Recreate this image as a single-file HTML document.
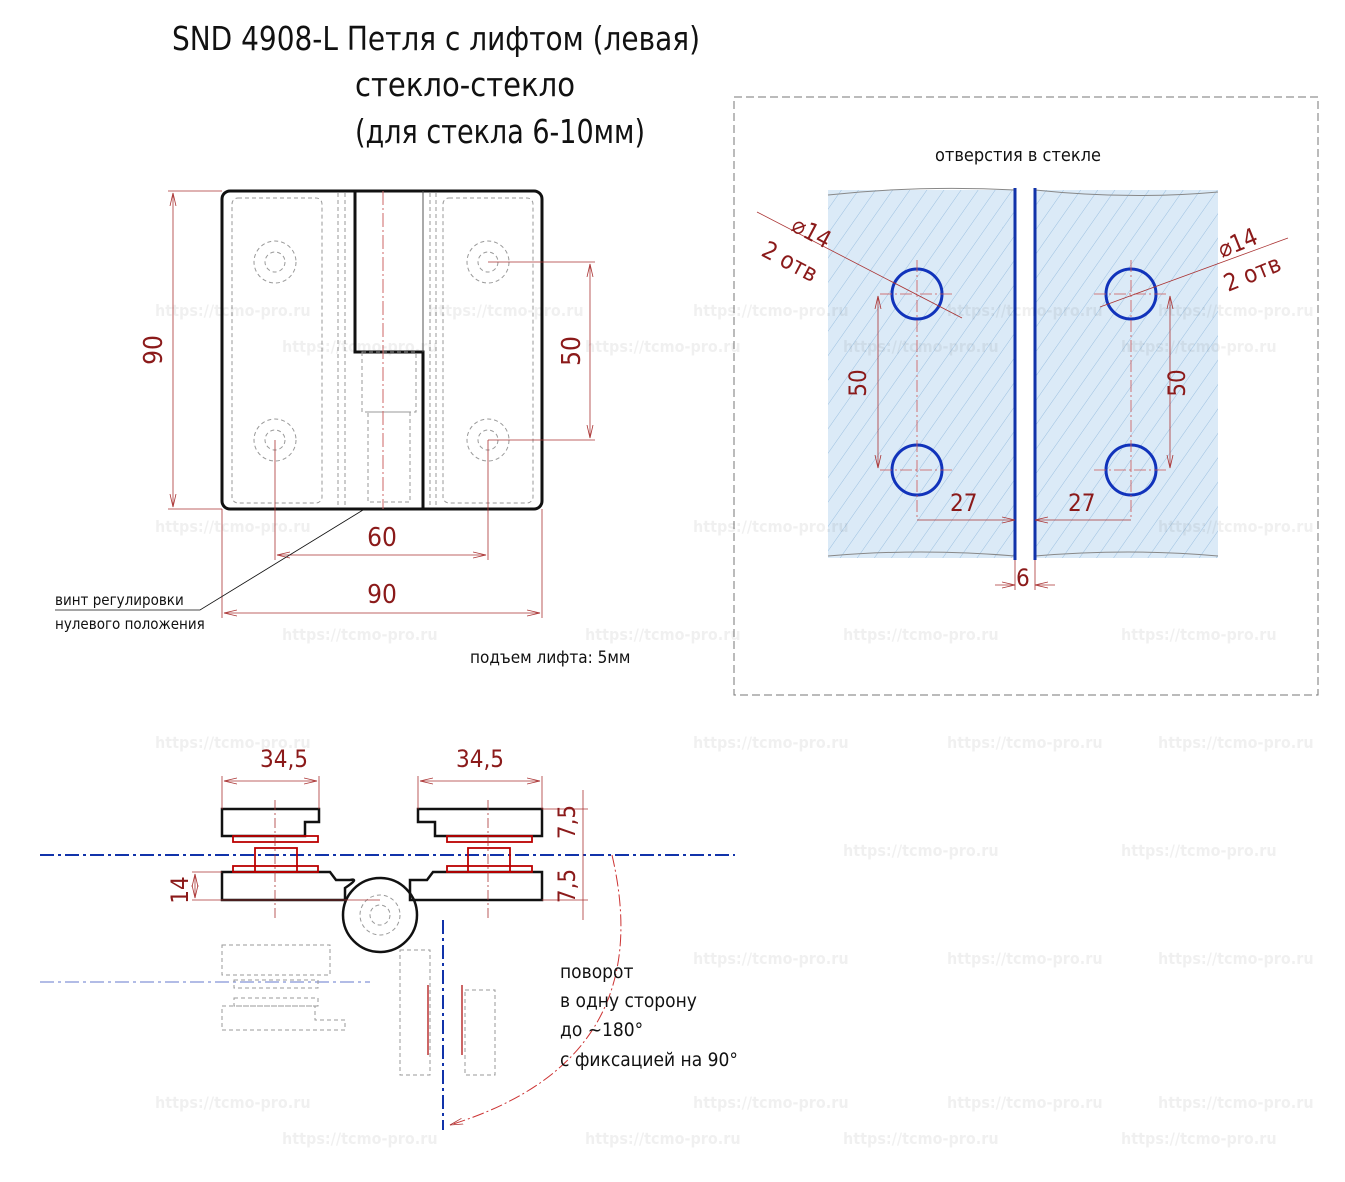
<!DOCTYPE html>
<html><head><meta charset="utf-8"><style>
html,body{margin:0;padding:0;background:#fff}
svg{display:block}
text{font-family:"DejaVu Sans Condensed","Liberation Sans Narrow","Liberation Sans",sans-serif}
</style></head><body>
<svg width="1345" height="1182" viewBox="0 0 1345 1182" xmlns="http://www.w3.org/2000/svg">
<defs>
<pattern id="h" width="14" height="14" patternUnits="userSpaceOnUse" patternTransform="rotate(35)">
<rect width="14" height="14" fill="#dbeaf7"/><line x1="0" y1="0" x2="0" y2="14" stroke="#9cc0e0" stroke-width="1"/></pattern>
<marker id="a" markerWidth="14" markerHeight="8" refX="13" refY="4" orient="auto-start-reverse" markerUnits="userSpaceOnUse"><path d="M0,1 L13,4 L0,7" fill="none" stroke="#a33" stroke-width="0.8"/></marker>
</defs>
<g font-size="33" fill="#111">
<text x="172" y="50" textLength="528" lengthAdjust="spacingAndGlyphs">SND 4908-L Петля с лифтом (левая)</text>
<text x="355" y="96" textLength="220" lengthAdjust="spacingAndGlyphs">стекло-стекло</text>
<text x="355" y="143" textLength="290" lengthAdjust="spacingAndGlyphs">(для стекла 6-10мм)</text>
</g>
<!-- front view -->
<g fill="none">
<rect x="222" y="191" width="320" height="318" rx="8" stroke="#111" stroke-width="3"/>
<path d="M355 191 V352 H423 V509" stroke="#111" stroke-width="3"/>
<line x1="423" y1="191" x2="423" y2="352" stroke="#555"/>
<g stroke="#999" stroke-dasharray="4 3">
<rect x="232" y="198" width="90" height="305" rx="6"/>
<rect x="443" y="198" width="90" height="305" rx="6"/>
<line x1="338" y1="193" x2="338" y2="507"/><line x1="345" y1="193" x2="345" y2="507"/>
<line x1="430" y1="193" x2="430" y2="507"/><line x1="436" y1="193" x2="436" y2="507"/>
<rect x="362" y="352" width="54" height="60"/><rect x="368" y="412" width="42" height="90"/>
<circle cx="275" cy="262" r="21"/><circle cx="275" cy="262" r="10"/>
<circle cx="275" cy="440" r="21"/><circle cx="275" cy="440" r="10"/>
<circle cx="488" cy="262" r="21"/><circle cx="488" cy="262" r="10"/>
<circle cx="488" cy="440" r="21"/><circle cx="488" cy="440" r="10"/>
</g>
<line x1="383" y1="191" x2="383" y2="509" stroke="#c66" stroke-dasharray="14 3 2 3"/>
<g stroke="#a33" stroke-width="0.8">
<line x1="222" y1="191" x2="168" y2="191"/><line x1="222" y1="509" x2="168" y2="509"/>
<line x1="173" y1="193" x2="173" y2="507" marker-start="url(#a)" marker-end="url(#a)"/>
<line x1="488" y1="262" x2="595" y2="262"/><line x1="488" y1="440" x2="595" y2="440"/>
<line x1="590" y1="264" x2="590" y2="438" marker-start="url(#a)" marker-end="url(#a)"/>
<line x1="275" y1="440" x2="275" y2="560"/><line x1="488" y1="440" x2="488" y2="560"/>
<line x1="277" y1="555" x2="486" y2="555" marker-start="url(#a)" marker-end="url(#a)"/>
<line x1="222" y1="509" x2="222" y2="618"/><line x1="542" y1="509" x2="542" y2="618"/>
<line x1="224" y1="613" x2="540" y2="613" marker-start="url(#a)" marker-end="url(#a)"/>
</g>
<path d="M363 510 L200 610 H55" stroke="#111" stroke-width="0.8"/>
</g>
<g fill="#8b1a1a" font-size="26">
<text transform="translate(162,350) rotate(-90)" text-anchor="middle">90</text>
<text transform="translate(580,351) rotate(-90)" text-anchor="middle">50</text>
<text x="382" y="546" text-anchor="middle">60</text>
<text x="382" y="603" text-anchor="middle">90</text>
</g>
<g font-size="15" fill="#111">
<text x="55" y="605">винт регулировки</text>
<text x="55" y="629">нулевого положения</text>
<text x="470" y="663" font-size="17">подъем лифта: 5мм</text>
</g>
<!-- right box -->
<rect x="734" y="97" width="584" height="598" fill="none" stroke="#777" stroke-dasharray="8 4"/>
<text x="935" y="161" font-size="18" fill="#111">отверстия в стекле</text>
<rect x="828" y="190" width="187" height="368" fill="url(#h)"/>
<rect x="1035" y="190" width="183" height="368" fill="url(#h)"/>
<g stroke="#888" fill="none"><path d="M828 195 Q920 185 1015 190 M1035 190 Q1130 200 1218 192 M828 556 Q920 548 1015 556 M1035 556 Q1130 548 1218 556"/></g>
<line x1="1015" y1="188" x2="1015" y2="560" stroke="#1133aa" stroke-width="3"/>
<line x1="1035" y1="188" x2="1035" y2="560" stroke="#1133aa" stroke-width="3"/>
<g fill="none" stroke="#1133bb" stroke-width="3">
<circle cx="917" cy="294" r="25"/><circle cx="917" cy="470" r="25"/>
<circle cx="1131" cy="294" r="25"/><circle cx="1131" cy="470" r="25"/></g>
<g stroke="#c55" stroke-width="0.8" fill="none" stroke-dasharray="12 3 2 3">
<line x1="880" y1="294" x2="955" y2="294"/><line x1="917" y1="260" x2="917" y2="520"/>
<line x1="880" y1="470" x2="955" y2="470"/><line x1="1094" y1="294" x2="1168" y2="294"/>
<line x1="1131" y1="260" x2="1131" y2="520"/><line x1="1094" y1="470" x2="1168" y2="470"/>
</g>
<g stroke="#a33" stroke-width="0.8" fill="none">
<line x1="757" y1="212" x2="962" y2="318"/><line x1="1288" y1="238" x2="1100" y2="307"/>
<line x1="878" y1="296" x2="878" y2="468" marker-start="url(#a)" marker-end="url(#a)"/>
<line x1="1170" y1="296" x2="1170" y2="468" marker-start="url(#a)" marker-end="url(#a)"/>
<line x1="917" y1="520" x2="1015" y2="520" marker-end="url(#a)"/>
<line x1="1131" y1="520" x2="1035" y2="520" marker-end="url(#a)"/>
<line x1="1015" y1="560" x2="1015" y2="590"/><line x1="1035" y1="560" x2="1035" y2="590"/>
<line x1="995" y1="585" x2="1015" y2="585" marker-end="url(#a)"/><line x1="1055" y1="585" x2="1035" y2="585" marker-end="url(#a)"/>
</g>
<g fill="#8b1a1a" font-size="24">
<text transform="translate(790,230) rotate(28)">⌀14</text>
<text transform="translate(760,255) rotate(28)">2 отв</text>
<text transform="translate(1222,258) rotate(-22)">⌀14</text>
<text transform="translate(1228,292) rotate(-22)">2 отв</text>
<text transform="translate(866,383) rotate(-90)" text-anchor="middle">50</text>
<text transform="translate(1185,383) rotate(-90)" text-anchor="middle">50</text>
<text x="950" y="511">27</text><text x="1068" y="511">27</text>
<text x="1016" y="586">6</text>
</g>
<!-- bottom view -->
<line x1="40" y1="855" x2="735" y2="855" stroke="#1133aa" stroke-width="2" stroke-dasharray="14 4 3 4"/>
<line x1="40" y1="982" x2="370" y2="982" stroke="#99a6dd" stroke-width="1.5" stroke-dasharray="14 4 3 4"/>
<g fill="none" stroke="#111" stroke-width="2.5">
<path d="M222 809 H319 V822 H305 V836 H222 Z"/>
<path d="M418 809 H542 V836 H435 V822 H418 Z"/>
<path d="M222 872 H330 L336 880 H350 Q360 878 345 888 V900 H222 Z"/>
<path d="M542 872 H433 L427 880 H410 V900 H542 Z"/>
<circle cx="380" cy="915" r="37"/>
</g>
<g fill="none" stroke="#b00" stroke-width="1.8">
<rect x="233" y="836" width="85" height="6"/><rect x="255" y="848" width="42" height="24"/><rect x="233" y="866" width="85" height="6"/>
<rect x="447" y="836" width="85" height="6"/><rect x="468" y="848" width="42" height="24"/><rect x="447" y="866" width="85" height="6"/>
</g>
<g fill="none" stroke="#999" stroke-dasharray="4 3">
<circle cx="380" cy="915" r="20"/><circle cx="380" cy="915" r="10"/>
<path d="M222 945 H330 V975 H222 Z M234 980 H318 V988 H234 Z M234 998 H318 V1006 H234 Z M222 1006 H315 V1020 H345 V1030 H222 Z"/>
<path d="M400 950 H430 V1075 H400 Z M465 990 H495 V1075 H465 Z"/>
</g>
<g stroke="#b33" stroke-width="1.5" fill="none"><path d="M428 985 V1055 M462 985 V1055"/></g>
<line x1="443" y1="920" x2="443" y2="1130" stroke="#1133aa" stroke-width="2" stroke-dasharray="14 4 3 4"/>
<path d="M612 855 Q660 1060 450 1125" fill="none" stroke="#c33" stroke-width="1" stroke-dasharray="12 3 2 3" marker-end="url(#a)"/>
<g stroke="#a33" stroke-width="0.8" fill="none">
<line x1="222" y1="809" x2="222" y2="776"/><line x1="319" y1="809" x2="319" y2="776"/>
<line x1="224" y1="781" x2="317" y2="781" marker-start="url(#a)" marker-end="url(#a)"/>
<line x1="418" y1="809" x2="418" y2="776"/><line x1="542" y1="809" x2="542" y2="776"/>
<line x1="420" y1="781" x2="540" y2="781" marker-start="url(#a)" marker-end="url(#a)"/>
<line x1="542" y1="809" x2="588" y2="809"/><line x1="542" y1="900" x2="588" y2="900"/>
<line x1="583" y1="790" x2="583" y2="920"/>
<line x1="192" y1="872" x2="222" y2="872"/><line x1="192" y1="900" x2="380" y2="900"/>
<line x1="195" y1="874" x2="195" y2="898" marker-start="url(#a)" marker-end="url(#a)"/>
<line x1="275" y1="800" x2="275" y2="920" stroke-dasharray="10 3 2 3"/>
<line x1="488" y1="800" x2="488" y2="920" stroke-dasharray="10 3 2 3"/>
</g>
<g fill="#8b1a1a" font-size="24">
<text x="284" y="767" text-anchor="middle">34,5</text>
<text x="480" y="767" text-anchor="middle">34,5</text>
<text transform="translate(575,822) rotate(-90)" text-anchor="middle">7,5</text>
<text transform="translate(575,886) rotate(-90)" text-anchor="middle">7,5</text>
<text transform="translate(188,890) rotate(-90)" text-anchor="middle">14</text>
</g>
<g font-size="19" fill="#111">
<text x="560" y="978">поворот</text>
<text x="560" y="1007">в одну сторону</text>
<text x="560" y="1036">до ~180°</text>
<text x="560" y="1066">с фиксацией на 90°</text>
</g>
<!-- watermarks -->
<g font-size="16" font-weight="bold" fill="#000" fill-opacity="0.06" font-family="Liberation Sans,sans-serif">
<text x="155" y="316">https://tcmo-pro.ru</text><text x="428" y="316">https://tcmo-pro.ru</text><text x="693" y="316">https://tcmo-pro.ru</text><text x="947" y="316">https://tcmo-pro.ru</text><text x="1158" y="316">https://tcmo-pro.ru</text>
<text x="282" y="352">https://tcmo-pro.ru</text><text x="585" y="352">https://tcmo-pro.ru</text><text x="843" y="352">https://tcmo-pro.ru</text><text x="1121" y="352">https://tcmo-pro.ru</text>
<text x="155" y="532">https://tcmo-pro.ru</text><text x="693" y="532">https://tcmo-pro.ru</text><text x="1158" y="532">https://tcmo-pro.ru</text>
<text x="282" y="640">https://tcmo-pro.ru</text><text x="585" y="640">https://tcmo-pro.ru</text><text x="843" y="640">https://tcmo-pro.ru</text><text x="1121" y="640">https://tcmo-pro.ru</text>
<text x="155" y="748">https://tcmo-pro.ru</text><text x="693" y="748">https://tcmo-pro.ru</text><text x="947" y="748">https://tcmo-pro.ru</text><text x="1158" y="748">https://tcmo-pro.ru</text>
<text x="843" y="856">https://tcmo-pro.ru</text><text x="1121" y="856">https://tcmo-pro.ru</text>
<text x="693" y="964">https://tcmo-pro.ru</text><text x="947" y="964">https://tcmo-pro.ru</text><text x="1158" y="964">https://tcmo-pro.ru</text>
<text x="155" y="1108">https://tcmo-pro.ru</text><text x="693" y="1108">https://tcmo-pro.ru</text><text x="947" y="1108">https://tcmo-pro.ru</text><text x="1158" y="1108">https://tcmo-pro.ru</text>
<text x="282" y="1144">https://tcmo-pro.ru</text><text x="585" y="1144">https://tcmo-pro.ru</text><text x="843" y="1144">https://tcmo-pro.ru</text><text x="1121" y="1144">https://tcmo-pro.ru</text>
</g>
</svg>
</body></html>
